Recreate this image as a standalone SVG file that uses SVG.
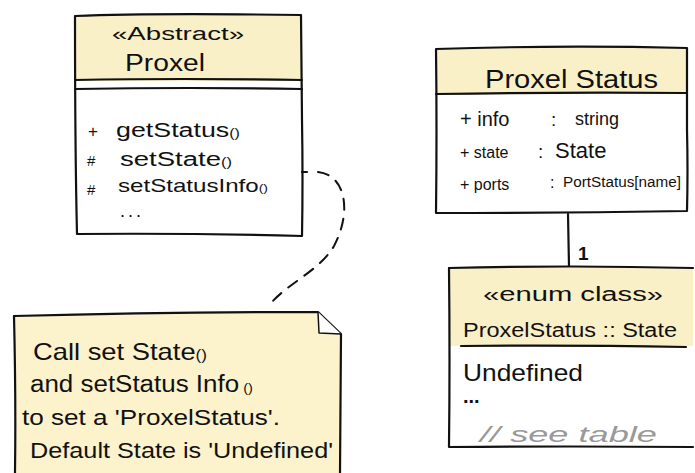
<svg xmlns="http://www.w3.org/2000/svg" width="695" height="473" viewBox="0 0 695 473">
  <defs>
    <style>
      .ink { fill: none; stroke: #111; stroke-width: 2.2; stroke-linecap: round; stroke-linejoin: round; }
      .head { fill: #faf0c8; stroke: none; }
      .body { fill: #ffffff; stroke: none; }
      .note { fill: #fcf3cd; stroke: none; }
      .t { font-family: "Liberation Sans", "DejaVu Sans", sans-serif; fill: #111; }
      .dash { fill: none; stroke: #111; stroke-width: 2; stroke-dasharray: 11 9; stroke-linecap: round; }
      .grey { fill: #999999; }
    </style>
  </defs>
  <rect width="695" height="473" fill="#ffffff"/>

  <!-- Abstract class Proxel -->
  <g id="proxel">
    <rect class="head" x="76" y="15" width="226" height="66"/>
    <rect class="body" x="76" y="89" width="226" height="146"/>
    <path class="ink" d="M75 16 Q150 13 301 15 L302 120 Q303 180 302 236 Q190 233 77 234 Q75 150 75 16 Z"/>
    <path class="ink" d="M75 80 Q180 78 302 80"/>
    <path class="ink" d="M75 89 Q190 87 302 89"/>
    <path class="ink" d="M302 172 L307 172"/>
    <text class="t" x="112" y="40" font-size="18" textLength="132" lengthAdjust="spacingAndGlyphs">«Abstract»</text>
    <text class="t" x="125" y="71" font-size="23" textLength="80" lengthAdjust="spacingAndGlyphs">Proxel</text>
    <text class="t" x="88" y="137" font-size="17">+</text>
    <text class="t" x="116" y="137" font-size="20" textLength="124" lengthAdjust="spacingAndGlyphs">getStatus<tspan font-size="12">()</tspan></text>
    <text class="t" x="87" y="166" font-size="15">#</text>
    <text class="t" x="120" y="166" font-size="20" textLength="112" lengthAdjust="spacingAndGlyphs">setState<tspan font-size="12">()</tspan></text>
    <text class="t" x="87" y="195" font-size="15">#</text>
    <text class="t" x="118" y="192" font-size="19" textLength="150" lengthAdjust="spacingAndGlyphs">setStatusInfo<tspan font-size="11">()</tspan></text>
    <text class="t" x="120" y="217" font-size="18" letter-spacing="3">...</text>
  </g>

  <!-- Class ProxelStatus -->
  <g id="proxel-status">
    <rect class="head" x="436" y="48" width="251" height="45"/>
    <rect class="body" x="436" y="93" width="251" height="120"/>
    <path class="ink" d="M436 49 Q560 45 687 48 L687 130 Q688 170 687 211 Q560 213 436 213 Q437 130 436 49 Z"/>
    <path class="ink" d="M436 94 Q560 92 687 93"/>
    <text class="t" x="485" y="88" font-size="26" textLength="173" lengthAdjust="spacingAndGlyphs">Proxel Status</text>
    <text class="t" x="460" y="126" font-size="20">+ info</text>
    <text class="t" x="551" y="126" font-size="19">:</text>
    <text class="t" x="575" y="125" font-size="18">string</text>
    <text class="t" x="460" y="158" font-size="16">+ state</text>
    <text class="t" x="538" y="158" font-size="19">:</text>
    <text class="t" x="555" y="158" font-size="22">State</text>
    <text class="t" x="460" y="190" font-size="16">+ ports</text>
    <text class="t" x="550" y="188" font-size="16">:</text>
    <text class="t" x="563" y="187" font-size="14" textLength="118" lengthAdjust="spacingAndGlyphs">PortStatus[name]</text>
  </g>

  <!-- Enum ProxelStatus::State -->
  <g id="proxel-status-state">
    <rect class="head" x="449" y="268" width="244" height="78"/>
    <rect class="body" x="449" y="346" width="244" height="100"/>
    <path class="ink" d="M449 268 Q570 265 693 268"/>
    <path class="ink" d="M449 268 Q450 360 449 447 Q570 446 693 447"/>
    <path class="ink" d="M461 346 Q570 345 686 347"/>
    <text class="t" x="483" y="301" font-size="20" textLength="180" lengthAdjust="spacingAndGlyphs">«enum class»</text>
    <text class="t" x="463" y="337" font-size="20" textLength="214" lengthAdjust="spacingAndGlyphs">ProxelStatus :: State</text>
    <text class="t" x="463" y="381" font-size="24" textLength="120" lengthAdjust="spacingAndGlyphs">Undefined</text>
    <text class="t" x="463" y="403" font-size="20" font-weight="bold">...</text>
    <text class="t grey" x="480" y="442" font-size="22" font-style="italic" textLength="177" lengthAdjust="spacingAndGlyphs">// see  table</text>
  </g>

  <!-- Note -->
  <g id="note">
    <path class="note" d="M14 316 L318 312 L341 334 L341 473 L15 473 Z"/>
    <path class="ink" d="M14 316 Q170 312 318 312 L341 334 L340 473"/>
    <path class="ink" d="M14 316 Q16 400 15 473"/>
    <path d="M318 312 L319 333 L341 334" fill="#ffffff" stroke="#111" stroke-width="1.5" stroke-linejoin="round"/>
    <text class="t" x="33" y="360" font-size="24" textLength="174" lengthAdjust="spacingAndGlyphs">Call set State<tspan font-size="15">()</tspan></text>
    <text class="t" x="30" y="392" font-size="23" textLength="223" lengthAdjust="spacingAndGlyphs">and setStatus Info<tspan font-size="13"> ()</tspan></text>
    <text class="t" x="22" y="425" font-size="22" textLength="258" lengthAdjust="spacingAndGlyphs">to set  a 'ProxelStatus'.</text>
    <text class="t" x="30" y="458" font-size="22" textLength="303" lengthAdjust="spacingAndGlyphs">Default  State is 'Undefined'</text>
  </g>

  <!-- Connectors -->
  <g id="connectors">
    <path class="dash" d="M318 172 C346 175 352 212 334 246 C320 270 290 282 272 302"/>
    <path class="ink" d="M568 214 L569 266"/>
    <text class="t" x="578" y="260" font-size="19" font-weight="bold">1</text>
  </g>
</svg>
